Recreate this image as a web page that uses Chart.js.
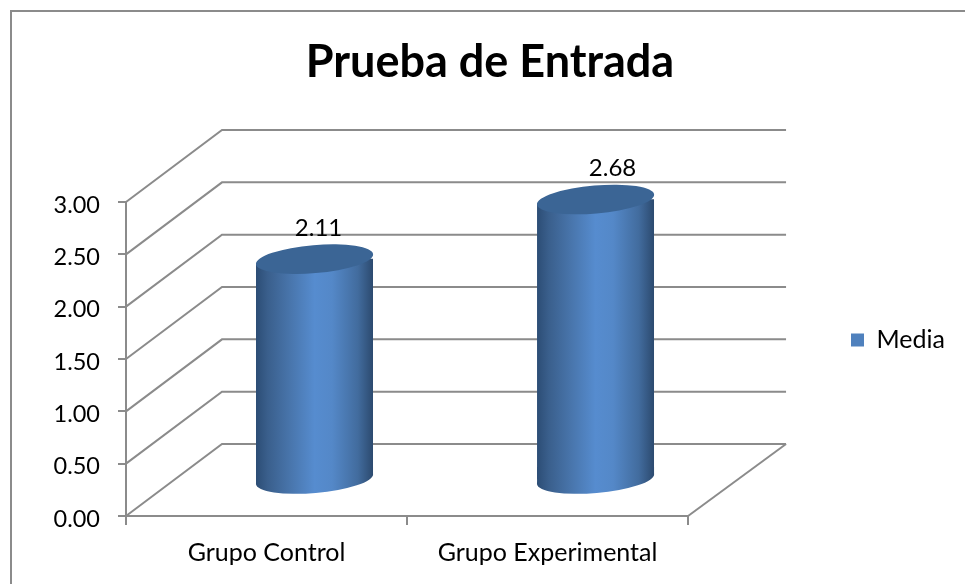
<!DOCTYPE html>
<html lang="es">

<head>
   <meta charset="UTF-8">
   <title>Prueba de Entrada</title>
   <script src="https://cdn.jsdelivr.net/npm/chart.js@4"></script>
   <style>
      body { margin: 0; background: #fff; }
      #wrap { width: 965px; height: 584px; }
   </style>
</head>

<body>
   <div id="wrap"><canvas id="myChart" width="965" height="584"></canvas></div>
   <script>
      const titleText = 'Prueba de Entrada';
      const seriesName = 'Media';
      const categories = ['Grupo Control', 'Grupo Experimental'];
      const mediaValues = [2.11, 2.68];

      const lineColor = '#8b8b8b';
      const fontName = 'Lato, Carlito, Calibri, sans-serif';
      // depth of the fake 3D box
      const depthX = 96;
      const depthY = -72;
      const barWidth = 117;
      const radiusX = 58.8;
      const radiusY = 14;
      const tilt = -0.085;
      const labelShift = [4, 17];

      function bodyGradient(ctx, cx) {
         const g = ctx.createLinearGradient(cx - barWidth / 2, 0, cx + barWidth / 2, 0);
         g.addColorStop(0, '#2c4d75');
         g.addColorStop(0.1, '#3a5f8c');
         g.addColorStop(0.3, '#4976ad');
         g.addColorStop(0.5, '#568ccf');
         g.addColorStop(0.65, '#5488c8');
         g.addColorStop(0.87, '#426c9e');
         g.addColorStop(1, '#2c4a6f');
         return g;
      }

      const boxPlugin = {
         id: 'box3d',
         afterLayout(chart) {
            // title and legend sit off the plot's own centre in the picture
            chart.titleBlock.left = 15;
            chart.titleBlock.right = 965;
            const w = chart.legend.right - chart.legend.left;
            chart.legend.left = 841;
            chart.legend.right = 841 + w;
            const h = chart.legend.bottom - chart.legend.top;
            chart.legend.top = 340 - h / 2;
            chart.legend.bottom = 340 + h / 2;
         },
         beforeDraw(chart) {
            const c = chart.ctx;
            c.save();
            c.strokeStyle = lineColor;
            c.lineWidth = 2;
            c.beginPath();
            c.moveTo(11, 584);
            c.lineTo(11, 11);
            c.lineTo(965, 11);
            c.stroke();
            c.restore();
         },
         beforeDatasetsDraw(chart) {
            const c = chart.ctx;
            const y = chart.scales.y;
            const area = chart.chartArea;
            c.save();
            c.strokeStyle = lineColor;
            c.lineWidth = 2;
            y.ticks.forEach(t => {
               const py = y.getPixelForValue(t.value);
               c.beginPath();
               c.moveTo(area.left, py);
               c.lineTo(area.left + depthX, py + depthY);
               c.lineTo(area.right + depthX + 2, py + depthY);
               c.stroke();
            });
            c.beginPath();
            c.moveTo(area.right, area.bottom);
            c.lineTo(area.right + depthX + 2, area.bottom + depthY);
            c.stroke();
            c.restore();

            // the bars stand halfway into the box
            c.save();
            c.translate(depthX / 2, depthY / 2);
            const bars = chart.getDatasetMeta(0).data;
            const half = barWidth / 2;
            const rise = Math.sin(tilt) * half;
            bars.forEach(b => {
               c.fillStyle = bodyGradient(c, b.x);
               c.beginPath();
               c.ellipse(b.x, b.base, radiusX, radiusY, tilt, 0, Math.PI * 2);
               c.fill();
               // foot of the body down to the tilted ellipse
               c.beginPath();
               c.moveTo(b.x - half, b.base - 12);
               c.lineTo(b.x + half, b.base - 12);
               c.lineTo(b.x + half, b.base + rise);
               c.lineTo(b.x - half, b.base - rise);
               c.closePath();
               c.fill();
            });
            // cut the square foot of each bar to the round silhouette
            c.beginPath();
            bars.forEach(b => {
               c.moveTo(b.x - half, b.y - rise);
               c.lineTo(b.x + half, b.y + rise);
               c.lineTo(b.x + half, b.base + rise);
               c.lineTo(b.x - half, b.base - rise);
               c.closePath();
            });
            c.clip();
         },
         afterDatasetsDraw(chart) {
            const c = chart.ctx;
            c.restore();
            c.save();
            c.translate(depthX / 2, depthY / 2);
            chart.getDatasetMeta(0).data.forEach((b, i) => {
               c.fillStyle = '#3b6595';
               c.beginPath();
               c.ellipse(b.x, b.y, radiusX, radiusY, tilt, 0, Math.PI * 2);
               c.fill();
               c.fillStyle = '#000';
               c.font = '24px ' + fontName;
               c.textAlign = 'center';
               c.textBaseline = 'middle';
               c.fillText(mediaValues[i].toFixed(2), b.x + labelShift[i], b.y - 31);
            });
            c.restore();
         }
      };

      new Chart(document.getElementById('myChart').getContext('2d'), {
         type: 'bar',
         data: {
            labels: categories,
            datasets: [{
               label: seriesName,
               data: mediaValues,
               barThickness: barWidth,
               clip: false,
               backgroundColor: ctx => {
                  if (ctx.dataIndex === undefined) return '#4f81bd';
                  return bodyGradient(ctx.chart.ctx, ctx.chart.scales.x.getPixelForValue(ctx.dataIndex));
               }
            }]
         },
         options: {
            responsive: false,
            animation: false,
            layout: { padding: { left: 0, right: 163, top: 0, bottom: 0 } },
            scales: {
               x: {
                  afterFit: s => { s.height = 68; },
                  border: { color: lineColor, width: 2 },
                  grid: { drawOnChartArea: false, color: lineColor, lineWidth: 2, tickLength: 9 },
                  ticks: { color: '#000', font: { family: fontName, size: 25 }, padding: 13, maxRotation: 0 }
               },
               y: {
                  min: 0,
                  max: 3,
                  afterFit: s => { s.width = 126; },
                  border: { color: lineColor, width: 2 },
                  grid: { drawOnChartArea: false, color: lineColor, lineWidth: 2, tickLength: 8 },
                  ticks: {
                     stepSize: 0.5,
                     color: '#000',
                     // empty first line plus short line height nudges the text down a little
                     font: { family: fontName, size: 23.5, lineHeight: '6px' },
                     padding: 18,
                     callback: v => ['', Number(v).toFixed(2)]
                  }
               }
            },
            plugins: {
               tooltip: { enabled: false },
               title: {
                  display: true,
                  text: titleText,
                  color: '#000',
                  font: { family: fontName, size: 45, weight: 'bold' },
                  padding: { top: 35, bottom: 113 }
               },
               legend: {
                  position: 'right',
                  fullSize: false,
                  labels: {
                     color: '#000',
                     font: { family: fontName, size: 25 },
                     boxWidth: 13,
                     boxHeight: 13,
                     padding: 10,
                     generateLabels: () => [{ text: seriesName, fillStyle: '#4f81bd', strokeStyle: '#4f81bd', lineWidth: 0 }]
                  }
               }
            }
         },
         plugins: [boxPlugin]
      });
   </script>
</body>

</html>
